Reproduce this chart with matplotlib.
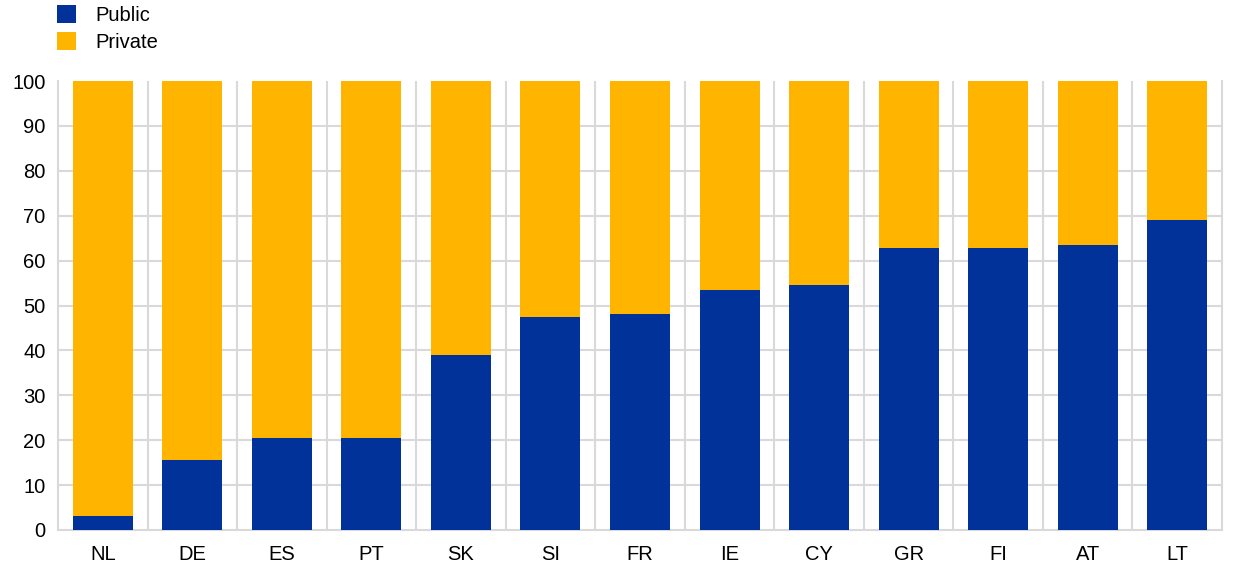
import matplotlib.pyplot as plt
import numpy as np

plt.rcParams['font.family'] = ['Liberation Sans', 'DejaVu Sans']

countries = ["NL", "DE", "ES", "PT", "SK", "SI", "FR", "IE", "CY", "GR", "FI", "AT", "LT"]
public = [3.1, 15.6, 20.4, 20.4, 39.0, 47.5, 48.1, 53.5, 54.6, 62.8, 62.8, 63.4, 69.1]
private = [100 - p for p in public]

blue = "#003299"
yellow = "#FFB400"
grid = "#d9d9d9"

fig = plt.figure(figsize=(12.4, 5.75), dpi=100)
ax = fig.add_axes([0.0468, 0.0783, 0.9387, 0.7807])

x = np.arange(len(countries))
ax.bar(x, public, width=0.67, color=blue, label="Public", zorder=3)
ax.bar(x, private, width=0.67, bottom=public, color=yellow, label="Private", zorder=3)

ax.set_xlim(-0.5, len(countries) - 0.5)
ax.set_ylim(0, 100)
ax.set_yticks(range(0, 101, 10))
ax.set_xticks(x)
ax.set_xticklabels(countries)
ax.tick_params(length=0, labelsize=14.5)
ax.tick_params(axis='x', pad=11)
ax.tick_params(axis='y', pad=9)

for v in range(10, 100, 10):
    ax.axhline(v, color=grid, lw=1.5, zorder=1)
for b in np.arange(0.5, len(countries) - 1, 1):
    ax.axvline(b, color=grid, lw=1.5, zorder=1)

ax.spines["top"].set_visible(False)
for s in ["left", "right", "bottom"]:
    ax.spines[s].set_color(grid)
    ax.spines[s].set_linewidth(1.5)

fig.legend(loc="upper left", bbox_to_anchor=(0.031, 1.023), frameon=False,
           fontsize=14.5, handlelength=0.95, handleheight=1.0, handletextpad=1.0,
           labelspacing=0.35)

fig.savefig("out.png", dpi=100)
